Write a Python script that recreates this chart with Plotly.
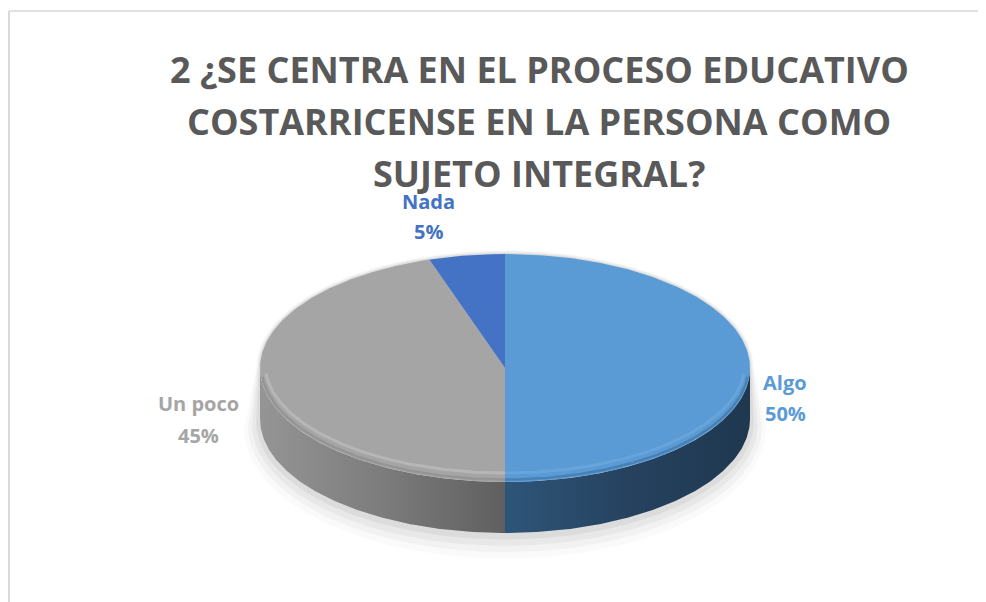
import numpy as np
import plotly.graph_objects as go

# ---- data ----
labels = ["Algo", "Un poco", "Nada"]
values = [50, 45, 5]
title_lines = ["2 ¿SE CENTRA EN EL PROCESO EDUCATIVO",
               "COSTARRICENSE EN LA PERSONA COMO",
               "SUJETO INTEGRAL?"]

# ---- style ----
top_colors = ["#5B9BD5", "#A5A5A5", "#4472C4"]
side_scales = [
    [[0, "#2E5579"], [0.5, "#26425F"], [1, "#1F3850"]],   # Algo (left->right)
    [[0, "#959595"], [0.5, "#7C7C7C"], [1, "#5F5F5F"]],   # Un poco (left->right)
    [[0, "#2F4F87"], [1, "#25406E"]],                     # Nada
]
label_colors = ["#5B9BD5", "#A5A5A5", "#4472C4"]
label_pos = [(785, 382, 413), (198, 403, 435), (428, 201, 231)]

W, H = 986, 602
OFF = 8  # page body margin
cx, cy, rx, ry, depth = 505, 368, 245, 114, 51


def pt(t_deg, dy=0.0, grow=0.0):
    t = np.radians(t_deg)
    return cx + (rx + grow) * np.sin(t), cy + dy - (ry + grow) * np.cos(t)


fig = go.Figure()

# soft shadow
for k, a in [(16, 0.02), (12, 0.03), (8, 0.04), (4, 0.05)]:
    ts_up = np.linspace(270, 450, 120)
    ts_dn = np.linspace(90, 270, 120)
    xu, yu = pt(ts_up, dy=0, grow=k * 0.25)
    xd, yd = pt(ts_dn, dy=depth + k * 0.6, grow=k)
    fig.add_trace(go.Scatter(
        x=np.concatenate([xu, xd]), y=np.concatenate([yu, yd]),
        fill="toself", fillcolor=f"rgba(0,0,0,{a})", mode="lines",
        line=dict(width=0), hoverinfo="skip", showlegend=False))

# slice angles (clockwise from 12 o'clock)
total = sum(values)
bounds = np.concatenate([[0], np.cumsum(values) / total * 360])

# sides (front half 90..270)
for i in range(len(values)):
    a0, a1 = max(bounds[i], 90), min(bounds[i + 1], 270)
    if a1 <= a0:
        continue
    ts = np.linspace(a0, a1, 100)
    xt, yt = pt(ts)
    xb, yb = pt(ts[::-1], dy=depth)
    fig.add_trace(go.Scatter(
        x=np.concatenate([xt, xb]), y=np.concatenate([yt, yb]),
        fill="toself", mode="lines", line=dict(width=0),
        fillgradient=dict(type="horizontal", colorscale=side_scales[i]),
        hoverinfo="skip", showlegend=False))

# top faces
for i in range(len(values)):
    ts = np.linspace(bounds[i], bounds[i + 1], 200)
    xa, ya = pt(ts)
    fig.add_trace(go.Scatter(
        x=np.concatenate([[cx], xa, [cx]]), y=np.concatenate([[cy], ya, [cy]]),
        fill="toself", fillcolor=top_colors[i], mode="lines",
        line=dict(width=0), hoverinfo="skip", showlegend=False))

# soft bevel along front top edge
hl_colors = ["rgba(40,80,120,0.35)", "rgba(120,120,120,0.35)", "rgba(40,70,130,0.3)"]
hl_colors2 = ["rgba(140,190,235,0.25)", "rgba(205,205,205,0.45)", "rgba(120,150,220,0.3)"]
for i in range(len(values)):
    a0, a1 = max(bounds[i], 95), min(bounds[i + 1], 265)
    if a1 <= a0:
        continue
    ts = np.linspace(a0, a1, 100)
    xh, yh = pt(ts, dy=-1, grow=-1.5)
    fig.add_trace(go.Scatter(
        x=xh, y=yh, mode="lines", line=dict(width=2.5, color=hl_colors[i]),
        hoverinfo="skip", showlegend=False))
    xh, yh = pt(ts, dy=-4, grow=-5)
    fig.add_trace(go.Scatter(
        x=xh, y=yh, mode="lines", line=dict(width=3, color=hl_colors2[i]),
        hoverinfo="skip", showlegend=False))

# labels
for lab, v, col, (lx, ly1, ly2) in zip(labels, values, label_colors, label_pos):
    fig.add_annotation(x=lx, y=ly1, text=f"<b>{lab}</b>", showarrow=False,
                       font=dict(family="Open Sans", size=20, color=col),
                       xanchor="center", yanchor="middle")
    fig.add_annotation(x=lx, y=ly2, text=f"<b>{v}%</b>", showarrow=False,
                       font=dict(family="Open Sans", size=20, color=col),
                       xanchor="center", yanchor="middle")

# title
for j, line in enumerate(title_lines):
    fig.add_annotation(x=539, y=69 + 52 * j, text=f"<b>{line}</b>", showarrow=False,
                       font=dict(family="Open Sans", size=36, color="#595959"),
                       xanchor="center", yanchor="middle")

# chart border (left and top visible)
fig.add_shape(type="line", x0=9, x1=9, y0=11, y1=700,
              line=dict(color="#D9D9D9", width=2))
fig.add_shape(type="line", x0=9, x1=1100, y0=11, y1=11,
              line=dict(color="#D9D9D9", width=1.5))

fig.update_layout(
    width=W, height=H, margin=dict(l=0, r=0, t=0, b=0),
    paper_bgcolor="white", plot_bgcolor="white",
    xaxis=dict(range=[OFF, W + OFF], visible=False, fixedrange=True),
    yaxis=dict(range=[H + OFF, OFF], visible=False, fixedrange=True),
    showlegend=False,
)
fig.write_html("out.html")
